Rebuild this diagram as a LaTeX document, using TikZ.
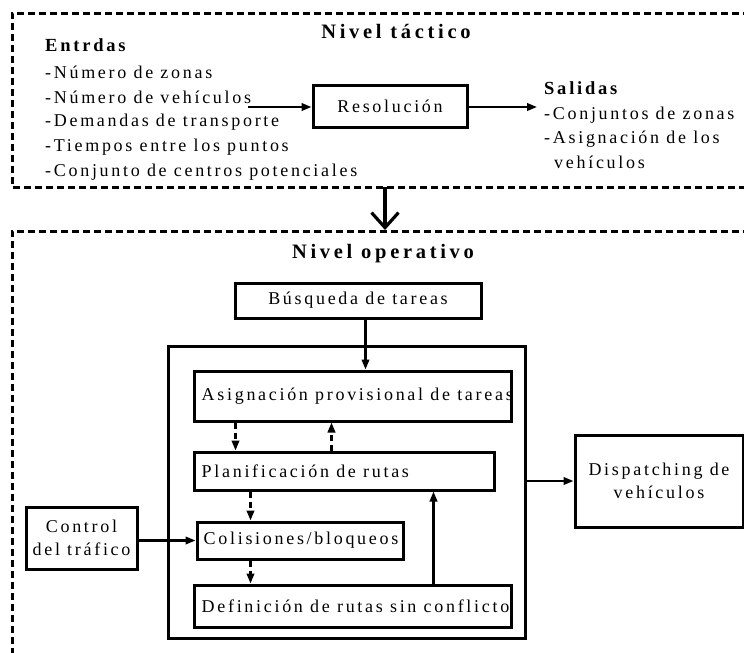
\documentclass[tikz,border=0pt]{standalone}
\usepackage{fontspec}
\setmainfont{Liberation Serif}[LetterSpace=15]
\newfontfamily\ttlfont{Liberation Serif}[LetterSpace=18]
\usetikzlibrary{arrows.meta,calc}
\begin{document}
\begin{tikzpicture}[x=1pt,y=-1pt,
  box/.style={draw, line width=3pt, inner sep=0pt},
  arr/.style={line width=2.2pt, -{Triangle[length=10pt,width=7.5pt]}},
  darr/.style={arr, dash pattern=on 6pt off 4pt},
  dbord/.style={line width=3pt, dash pattern=on 7pt off 4pt},
  txt/.style={font=\fontsize{18}{23}\selectfont, inner sep=0pt},
  hdr/.style={font=\fontsize{18.5}{23}\selectfont\bfseries, inner sep=0pt},
  ttl/.style={font=\ttlfont\fontsize{20.5}{24}\selectfont\bfseries, inner sep=0pt},
]
\useasboundingbox (0,0) rectangle (744,653);

% dashed regions
\draw[dbord] (750,13) -- (12,13) -- (12,187) -- (750,187);
\draw[dbord] (750,231) -- (12,231) -- (12,660);

% ---- tactical level
\node[ttl, anchor=base] (t1) at (396,38) {Nivel táctico};
\node[hdr, anchor=base west] (in0) at (45,51) {Entrdas};
\node[txt, anchor=base west] (in1) at (45,78) {-Número de zonas};
\node[txt, anchor=base west] (in2) at (45,103) {-Número de vehículos};
\node[txt, anchor=base west] (in3) at (45,126) {-Demandas de transporte};
\node[txt, anchor=base west] (in4) at (45,151) {-Tiempos entre los puntos};
\node[txt, anchor=base west] (in5) at (45,176) {-Conjunto de centros potenciales};

\node[box, txt, minimum width=154pt, minimum height=42pt] (res) at (390,106) {Resolución};
\coordinate (inarr) at (248,107);
\coordinate (outarr) at (537,107);
\draw[arr] (inarr) -- (inarr -| res.west);
\draw[arr] (res.east |- outarr) -- (outarr);

\node[hdr, anchor=base west] (out0) at (544,94) {Salidas};
\node[txt, anchor=base west] (out1) at (544,119) {-Conjuntos de zonas};
\node[txt, anchor=base west] (out2) at (544,143) {-Asignación de los};
\node[txt, anchor=base west] (out3) at (554,168) {vehículos};

% big arrow between levels
\coordinate (lvA) at (385,187);
\coordinate (lvB) at (385,230);
\draw[line width=3.2pt, -{Straight Barb[length=15pt,width=27pt]}] (lvA) -- (lvB);

% ---- operative level
\node[ttl, anchor=base] (t2) at (383,258) {Nivel operativo};
\node[box, txt, minimum width=246pt, minimum height=35pt] (busq) at (358,300.5) {Búsqueda de tareas};
\node[box, minimum width=357pt, minimum height=292pt] (outer) at (346.5,492) {};

\node[box, minimum width=317pt, minimum height=50pt] (asig) at (352.5,396) {};
\node[txt, anchor=west] (asigt) at ([xshift=9pt]asig.west) {Asignación provisional de tareas};

\node[box, minimum width=300pt, minimum height=38pt] (plan) at (344,471) {};
\node[txt, anchor=west] (plant) at ([xshift=9pt]plan.west) {Planificación de rutas};

\node[box, minimum width=206pt, minimum height=37pt] (col) at (300,540.5) {};
\node[txt, anchor=west] (colt) at ([xshift=8pt]col.west) {Colisiones/bloqueos};

\node[box, minimum width=317pt, minimum height=42pt] (def) at (352.5,606) {};
\node[txt, anchor=west] (deft) at ([xshift=9pt]def.west) {Definición de rutas sin conflicto};

\node[box, txt, align=center, minimum width=111pt, minimum height=62pt] (ctrl) at (81.5,538) {Control\\del tráfico};
\node[box, txt, align=center, minimum width=168pt, minimum height=92pt] (disp) at (659,481) {Dispatching de\\vehículos};

% connectors
\draw[arr] ([xshift=132pt]busq.south west) -- ([xshift=132pt]busq.south west |- asig.north);
\draw[darr] ([xshift=43pt]asig.south west) -- ([xshift=43pt]asig.south west |- plan.north);
\draw[darr] ([xshift=139pt]plan.north west) -- ([xshift=139pt]plan.north west |- asig.south);
\draw[darr] ([xshift=58pt]plan.south west) -- ([xshift=58pt]plan.south west |- col.north);
\draw[darr] ([xshift=58pt]def.north west |- col.south) -- ([xshift=58pt]def.north west);
\draw[arr] ([xshift=241pt]def.north west) -- ([xshift=241pt]def.north west |- plan.south);
\draw[arr] (ctrl.east |- col.west) -- (col.west);
\draw[arr] (outer.east |- disp.west) -- (disp.west);
\end{tikzpicture}
\end{document}
